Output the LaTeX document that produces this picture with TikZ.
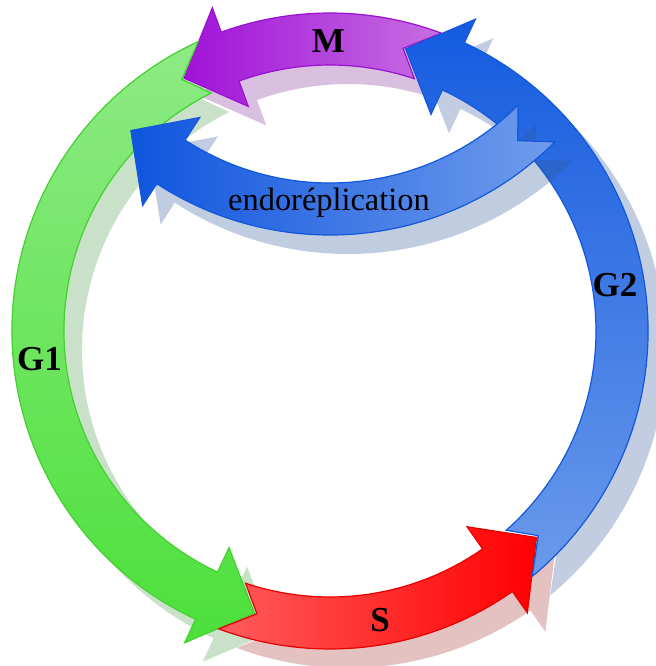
\documentclass[tikz,border=0pt]{standalone}
\usepackage{fontspec}
\setmainfont{Liberation Serif}
\usepackage{xcolor}
\usepackage{tikz}

\definecolor{mLeft}{HTML}{A012D8}
\definecolor{mRight}{HTML}{C76EE2}
\definecolor{mLine}{HTML}{9A10D0}
\definecolor{gTop}{HTML}{8EEA84}
\definecolor{gBottom}{HTML}{4CE03A}
\definecolor{gLine}{HTML}{44D030}
\definecolor{sLeft}{HTML}{FF5C5C}
\definecolor{sRight}{HTML}{FF0000}
\definecolor{sLine}{HTML}{E80000}
\definecolor{bTop}{HTML}{145BE0}
\definecolor{bBottom}{HTML}{6B9AEA}
\definecolor{bLine}{HTML}{1258DC}
\definecolor{eLeft}{HTML}{0F55DE}
\definecolor{eRight}{HTML}{709CEC}
\definecolor{shM}{HTML}{D9BFE0}
\definecolor{shG}{HTML}{C9E1C8}
\definecolor{shS}{HTML}{E5C2C2}
\definecolor{shB}{HTML}{C2CDE1}
\definecolor{shE}{HTML}{2D5598}

% band arrow on a ring: options, centre, tail angle, head base angle, direction
\def\ringout{6}
\def\ringin{4}
\newcommand{\ringarrow}[5]{%
  \pgfmathsetmacro{\ringA}{#3-#5*\ringout}%
  \pgfmathsetmacro{\ringB}{#3-#5*\ringin}%
  \pgfmathsetmacro{\ringT}{#4+#5*10}%
  \path[shift={(#2)}, #1] (\ringA:318) -- (#3:292) -- (\ringB:266)
    arc[start angle=\ringB, end angle=#4, radius=266]
    -- (#4:239) -- (\ringT:292) -- (#4:344) -- (#4:318)
    arc[start angle=#4, end angle=\ringA, radius=318] -- cycle;
}

\begin{document}
\begin{tikzpicture}[
x=0.5pt, y=0.5pt,
shadow/.style={shift={(18,-19)}},
band/.style={draw, line width=0.6pt},
phase/.style={font=\bfseries\fontsize{17.5}{20}\selectfont, anchor=base},
label/.style={font=\fontsize{16.2}{19}\selectfont, anchor=base}
]
\useasboundingbox (0,0) rectangle (656,666);
% shadows of the cycle
\ringarrow{shadow, fill=shM}{330,335}{75.5}{110}{1}
\ringarrow{shadow, fill=shG}{330,335}{120.5}{245}{1}
\ringarrow{shadow, fill=shS}{330,335}{255.5}{305}{1}
\ringarrow{shadow, fill=shB}{330,335}{315.5}{425}{1}
% cycle
\ringarrow{band, draw=mLine, left color=mLeft, right color=mRight}{330,335}{75.5}{110}{1}
\ringarrow{band, draw=gLine, top color=gTop, bottom color=gBottom}{330,335}{120.5}{245}{1}
\ringarrow{band, draw=sLine, left color=sLeft, right color=sRight}{330,335}{255.5}{305}{1}
\ringarrow{band, draw=bLine, top color=bTop, bottom color=bBottom}{330,335}{315.5}{425}{1}
% endoreplication
\def\ringout{5}
\def\ringin{5}
\ringarrow{shadow, fill=shE, fill opacity=0.3}{330,749}{310}{237}{-1}
\ringarrow{band, draw=bLine, left color=eLeft, right color=eRight}{330,749}{310}{237}{-1}

\node[phase] (m) at (328.5,613) {M};
\node[phase] (g1) at (39.5,295) {G1};
\node[phase] (s) at (380,34) {S};
\node[phase] (g2) at (615,370) {G2};
\node[label] (endo) at (329,455) {endoréplication};
\end{tikzpicture}
\end{document}
